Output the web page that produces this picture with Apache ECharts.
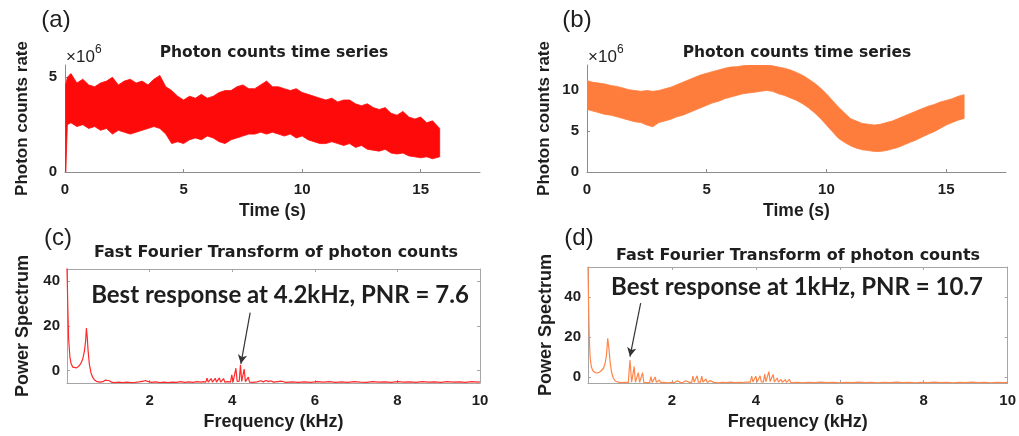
<!DOCTYPE html>
<html>
<head>
<meta charset="utf-8">
<script src="https://cdn.jsdelivr.net/npm/echarts@6/dist/echarts.min.js"></script>
<style>html,body{margin:0;padding:0;background:#fff}#c{width:1019px;height:436px}</style>
</head>
<body>
<div id="c"></div>
<script>
// ---- time series (a): seconds, photon counts rate in units of 1e6 ----
var timeA = [0.03,0.1,0.25,0.5,0.75,1,1.25,1.5,1.75,2,2.25,2.5,2.75,3,3.25,3.5,3.75,4,4.25,4.5,4.75,5,5.25,5.5,5.75,6,6.25,6.5,6.75,7,7.25,7.5,7.75,8,8.25,8.5,8.75,9,9.25,9.5,9.75,10,10.25,10.5,10.75,11,11.25,11.5,11.75,12,12.25,12.5,12.75,13,13.25,13.5,13.75,14,14.25,14.5,14.75,15,15.25,15.5,15.8];
var upperA = [4.6,5.0,5.2,4.7,4.9,4.6,4.5,4.7,4.8,5.0,4.6,4.8,4.9,4.7,4.8,4.6,4.9,5.1,4.5,4.3,4.0,3.8,4.0,3.9,4.1,3.9,4.0,4.2,4.3,4.3,4.5,4.6,4.4,4.4,4.6,4.8,4.5,4.5,4.4,4.3,4.4,4.2,4.1,4.0,3.9,3.8,3.9,3.7,3.8,3.8,3.6,3.5,3.6,3.4,3.3,3.4,3.1,3.0,3.2,2.9,2.8,2.9,2.6,2.7,2.3];
var lowerA = [0.0,2.5,2.6,2.4,2.5,2.3,2.4,2.2,2.3,2.0,2.2,2.1,2.0,2.1,2.2,2.3,2.4,2.3,2.0,1.5,1.6,1.5,1.7,1.8,1.7,1.9,1.8,1.6,1.5,1.7,1.8,1.9,2.0,2.0,2.1,2.0,2.1,2.0,1.9,2.0,1.8,1.9,1.7,1.6,1.5,1.5,1.6,1.5,1.4,1.5,1.3,1.4,1.2,1.15,1.1,1.2,1.0,0.95,1.0,0.85,0.8,0.75,0.8,0.7,0.8];

// ---- time series (b) ----
var timeB = [0,0.25,0.5,0.75,1,1.25,1.5,1.75,2,2.25,2.5,2.75,3,3.25,3.5,3.75,4,4.25,4.5,4.75,5,5.25,5.5,5.75,6,6.25,6.5,6.75,7,7.25,7.5,7.75,8,8.25,8.5,8.75,9,9.25,9.5,9.75,10,10.25,10.5,10.75,11,11.25,11.5,11.75,12,12.25,12.5,12.75,13,13.25,13.5,13.75,14,14.25,14.5,14.75,15,15.25,15.5,15.75];
var upperB = [11.1,10.9,10.8,10.7,10.5,10.4,10.2,10.0,9.9,9.8,9.9,9.8,9.9,10.1,10.3,10.6,10.9,11.2,11.5,11.8,12.0,12.2,12.4,12.6,12.75,12.8,12.9,13.0,13.0,13.1,13.0,12.9,12.75,12.6,12.4,12.1,11.75,11.3,10.8,10.2,9.5,8.7,7.9,7.2,6.5,6.2,5.9,5.8,5.7,5.8,6.0,6.2,6.5,6.8,7.1,7.4,7.7,8.0,8.2,8.5,8.7,8.9,9.2,9.4];
var lowerB = [7.6,7.4,7.2,7.0,6.9,6.7,6.5,6.3,6.1,6.0,5.7,5.5,6.0,6.2,6.4,6.7,6.9,7.2,7.5,7.8,8.1,8.4,8.6,8.9,9.1,9.3,9.5,9.6,9.7,9.8,9.9,9.8,9.5,9.3,9.0,8.7,8.3,7.8,7.2,6.5,5.7,4.9,4.1,3.6,3.2,2.9,2.7,2.6,2.5,2.5,2.6,2.8,3.0,3.3,3.6,3.9,4.25,4.6,4.9,5.3,5.7,6.0,6.3,6.5];

// ---- FFT (c): [frequency kHz, power] ----
var fftC = [[0,46],[0.02,28],[0.04,14],[0.07,6],[0.1,3],[0.14,1.5],[0.18,1.0],[0.23,1.2],[0.28,1.8],[0.33,3],[0.38,5],[0.42,8.5],[0.45,13],[0.47,19],[0.49,15],[0.51,9],[0.54,3],[0.58,-1],[0.62,-3],[0.67,-4.3],[0.73,-5.0],[0.8,-5.2],[0.87,-5.0],[0.93,-4.3],[0.97,-3.9],[1.02,-4.6],[1.08,-5.2],[1.15,-5.4],[1.25,-5.2],[1.35,-5.4],[1.45,-5.2],[1.55,-5.4],[1.65,-5.3],[1.75,-5.1],[1.85,-4.8],[1.9,-4.5],[1.95,-4.9],[2.05,-5.3],[2.15,-5.1],[2.25,-5.4],[2.35,-5.2],[2.45,-5.4],[2.55,-5.2],[2.65,-5.3],[2.75,-5.0],[2.85,-5.3],[2.95,-5.1],[3.05,-5.3],[3.15,-5.0],[3.25,-5.2],[3.3,-5.0],
[3.36,-5.2],[3.39,-3.5],[3.42,-5.2],[3.46,-5.2],[3.49,-3.6],[3.52,-5.2],[3.56,-5.2],[3.59,-3.5],[3.62,-5.2],[3.66,-5.2],[3.69,-3.3],[3.72,-5.2],[3.76,-5.2],[3.79,-3.6],[3.82,-5.2],[3.86,-5.3],[3.9,-5.0],[3.96,-5.2],[3.99,-1.9],[4.02,-5.2],[4.06,-5.1],[4.09,1.0],[4.12,-4.9],[4.17,-4.8],[4.2,2.6],[4.23,-4.9],[4.26,-5.0],[4.29,0.6],[4.32,-5.0],[4.36,-5.1],[4.39,-3.0],[4.42,-5.2],[4.5,-5.3],[4.6,-5.1],[4.7,-4.6],[4.75,-5.1],[4.82,-4.5],[4.88,-5.0],[4.93,-4.6],[5.0,-5.2],[5.1,-5.0],[5.2,-4.8],[5.3,-5.3],[5.45,-5.1],[5.6,-5.3],[5.75,-5.1],[5.9,-5.3],[6.05,-5.0],[6.2,-5.2],[6.35,-5.0],[6.5,-5.3],[6.65,-5.1],[6.8,-5.3],[6.95,-5.0],[7.1,-5.2],[7.25,-5.3],[7.4,-5.0],[7.55,-5.2],[7.7,-5.1],[7.85,-5.3],[8.0,-5.0],[8.15,-5.2],[8.3,-5.1],[8.45,-5.3],[8.6,-5.0],[8.75,-5.2],[8.9,-5.1],[9.05,-5.3],[9.2,-5.0],[9.35,-5.2],[9.5,-5.1],[9.65,-5.3],[9.8,-5.0],[9.95,-5.2],[10,-5.1]];

// ---- FFT (d) ----
var fftD = [[0,55],[0.015,35],[0.03,20],[0.05,10],[0.08,5],[0.12,3],[0.17,2.2],[0.22,2.0],[0.27,2.4],[0.32,3.2],[0.37,4.5],[0.41,7],[0.44,11],[0.47,19.3],[0.5,14],[0.53,7],[0.56,2.5],[0.6,-0.5],[0.65,-2],[0.72,-2.6],[0.8,-2.8],[0.9,-2.7],[0.96,-2.8],[1.0,8.5],[1.04,-2.6],[1.07,-2.7],[1.1,5.2],[1.13,-2.6],[1.17,-2.7],[1.2,2.2],[1.23,-2.7],[1.27,-2.7],[1.3,2.2],[1.33,-2.7],[1.4,-2.8],[1.47,-2.7],[1.5,0.2],[1.53,-2.7],[1.57,-2.7],[1.6,0.0],[1.63,-2.7],[1.67,-2.8],[1.7,-1.5],[1.73,-2.8],[1.8,-2.7],[1.9,-2.9],[2.0,-2.7],[2.03,-1.8],[2.06,-2.8],[2.1,-2.7],[2.13,-1.9],[2.16,-2.8],[2.2,-2.7],[2.23,-1.8],[2.26,-2.8],[2.3,-2.7],[2.33,-1.9],[2.36,-2.8],[2.42,-2.7],[2.47,-2.7],[2.5,0.5],[2.53,-2.6],[2.57,-2.6],[2.6,0.6],[2.63,-2.6],[2.68,-2.6],[2.71,0.4],[2.74,-2.6],[2.78,-2.6],[2.81,-1.0],[2.84,-2.7],[2.88,-2.7],[2.91,-1.8],[2.94,-2.8],[3.0,-2.7],[3.1,-2.9],[3.2,-2.7],[3.3,-2.8],[3.4,-2.6],[3.5,-2.8],[3.6,-2.7],[3.7,-2.8],[3.75,-2.5],[3.78,-1.6],[3.81,-2.6],[3.87,-2.6],[3.9,0.5],[3.93,-2.5],[3.97,-2.5],[4.0,0.4],[4.03,-2.5],[4.07,-2.5],[4.1,0.6],[4.13,-2.4],[4.18,-2.4],[4.21,1.5],[4.24,-2.3],[4.28,-2.3],[4.31,2.7],[4.34,-2.3],[4.38,-2.4],[4.41,1.3],[4.44,-2.4],[4.48,-2.5],[4.51,-0.5],[4.54,-2.6],[4.57,-2.6],[4.6,-1.2],[4.63,-2.6],[4.67,-2.6],[4.7,-1.3],[4.73,-2.7],[4.77,-2.7],[4.8,-1.2],[4.83,-2.7],[4.9,-2.8],[5.0,-2.7],[5.1,-2.9],[5.25,-2.7],[5.4,-2.8],[5.55,-2.6],[5.7,-2.8],[5.85,-2.7],[6.0,-2.9],[6.15,-2.7],[6.3,-2.8],[6.45,-2.6],[6.6,-2.8],[6.75,-2.7],[6.9,-2.9],[7.05,-2.7],[7.2,-2.8],[7.35,-2.6],[7.5,-2.8],[7.65,-2.7],[7.8,-2.9],[7.95,-2.7],[8.1,-2.8],[8.25,-2.6],[8.4,-2.8],[8.55,-2.7],[8.7,-2.9],[8.85,-2.7],[9.0,-2.8],[9.15,-2.6],[9.3,-2.8],[9.45,-2.7],[9.6,-2.9],[9.75,-2.7],[9.9,-2.8],[10,-2.7]];

// ---- tick labels ----
var ticksTime = [0, 5, 10, 15];
var ticksRateA = [0, 5];
var ticksRateB = [0, 5, 10];
var ticksFreqLabels = [2, 4, 6, 8, 10];
var ticksFreqMarks = [2, 4, 6, 8];
var ticksPower = [0, 20, 40];

// arrows: [from, to] in data coordinates
var arrowC = [[4.435, 25.9], [4.21, 3.0]];
var arrowD = [[1.255, 36.9], [1.0, 10.2]];

var RED = '#ff0a0a', ORANGE = '#ff7d3c', FFT_RED = '#ff2a2a', FFT_OR = '#ff8548';
var TXT = '#1e1e1e', AX = '#8c8c8c', FRAME = '#a6a6a6';
var FF = '"Liberation Sans", Arial, sans-serif';

function timeX(gi) {
  return {
    type: 'value', gridIndex: gi, min: 0, max: 17.5,
    axisLine: { show: true, lineStyle: { color: AX, width: 1 } },
    axisTick: { show: true, inside: true, length: 3, customValues: ticksTime, lineStyle: { color: AX } },
    axisLabel: { customValues: ticksTime, color: TXT, fontSize: 15, fontWeight: 'bold', margin: 10, fontFamily: FF },
    splitLine: { show: false },
    name: 'Time (s)', nameLocation: 'middle', nameGap: 30,
    nameTextStyle: { color: TXT, fontSize: 17.5, fontWeight: 'bold', fontFamily: FF }
  };
}
function rateY(gi, max, ticks) {
  return {
    type: 'value', gridIndex: gi, min: 0, max: max,
    axisLine: { show: true, lineStyle: { color: AX, width: 1 } },
    axisTick: { show: true, inside: true, length: 3, customValues: ticks, lineStyle: { color: AX } },
    axisLabel: { customValues: ticks, color: TXT, fontSize: 15, fontWeight: 'bold', margin: 8, fontFamily: FF },
    splitLine: { show: false },
    name: 'Photon counts rate', nameLocation: 'middle', nameGap: 34,
    nameTextStyle: { color: TXT, fontSize: 17, fontWeight: 'bold', fontFamily: FF }
  };
}
function freqX(gi, top) {
  var a = {
    type: 'value', gridIndex: gi, min: 0, max: 10, position: top ? 'top' : 'bottom',
    axisLine: { show: true, onZero: false, lineStyle: { color: FRAME, width: 1 } },
    axisTick: { show: true, inside: true, length: 3, customValues: ticksFreqMarks, lineStyle: { color: FRAME } },
    axisLabel: { show: !top, customValues: ticksFreqLabels, color: TXT, fontSize: 15, fontWeight: 'bold', margin: 10, fontFamily: FF },
    splitLine: { show: false }
  };
  if (!top) {
    a.name = 'Frequency (kHz)'; a.nameLocation = 'middle'; a.nameGap = 30;
    a.nameTextStyle = { color: TXT, fontSize: 18, fontWeight: 'bold', fontFamily: FF };
  }
  return a;
}
function powerY(gi, min, max, right, gap) {
  var a = {
    type: 'value', gridIndex: gi, min: min, max: max, position: right ? 'right' : 'left',
    axisLine: { show: true, onZero: false, lineStyle: { color: FRAME, width: 1 } },
    axisTick: { show: true, inside: true, length: 3, customValues: ticksPower, lineStyle: { color: FRAME } },
    axisLabel: { show: !right, customValues: ticksPower, color: TXT, fontSize: 15, fontWeight: 'bold', margin: 7, fontFamily: FF },
    splitLine: { show: false }
  };
  if (!right) {
    a.name = 'Power Spectrum'; a.nameLocation = 'middle'; a.nameGap = gap;
    a.nameTextStyle = { color: TXT, fontSize: 18, fontWeight: 'bold', fontFamily: FF };
  }
  return a;
}
// noisy band: polygon between lower and upper envelopes, positioned by the axis scales
function band(xi, t, up, lo, color) {
  var data = t.map(function (x, i) { return [x, lo[i], up[i]]; });
  return {
    type: 'custom', xAxisIndex: xi, yAxisIndex: xi, data: data, silent: true, animation: false,
    encode: { x: 0, y: [1, 2] }, clip: true,
    renderItem: function (params, api) {
      if (params.dataIndex !== 0) return null;
      var pts = [], i;
      for (i = 0; i < t.length; i++) pts.push(api.coord([t[i], up[i]]));
      for (i = t.length - 1; i >= 0; i--) pts.push(api.coord([t[i], lo[i]]));
      return { type: 'polygon', shape: { points: pts },
        style: { fill: color, stroke: color, lineWidth: 0.8 } };
    }
  };
}
function fft(xi, yi, data, color, arrow) {
  return { type: 'line', xAxisIndex: xi, yAxisIndex: yi, data: data, symbol: 'none',
    lineStyle: { color: color, width: 1.2 }, silent: true, animation: false,
    markLine: { silent: true, animation: false, symbol: ['none', 'arrow'], symbolSize: [7, 9],
      label: { show: false }, lineStyle: { color: '#333', width: 1.2, type: 'solid' },
      data: [[{ coord: arrow[0] }, { coord: arrow[1] }]] } };
}
function txt(x, y, s, font, align) {
  return { type: 'text', x: x, y: y, silent: true,
    style: { text: s, font: font, fill: TXT, align: align || 'center', verticalAlign: 'middle' } };
}

var chart = echarts.init(document.getElementById('c'), null, { renderer: 'canvas' });
chart.setOption({
  animation: false,
  backgroundColor: '#fff',
  textStyle: { fontFamily: FF },
  grid: [
    { left: 65, top: 65, width: 415, height: 107 },
    { left: 587, top: 65, width: 419, height: 107 },
    { left: 67, top: 269, width: 413, height: 114 },
    { left: 588, top: 267, width: 428, height: 116 }
  ],
  xAxis: [timeX(0), timeX(1), freqX(2, false), freqX(2, true), freqX(3, false), freqX(3, true)],
  yAxis: [rateY(0, 5.65, ticksRateA), rateY(1, 13, ticksRateB),
    powerY(2, -5.6, 45.4, false, 35), powerY(2, -5.6, 45.4, true), powerY(3, -3, 55, false, 33), powerY(3, -3, 55, true)],
  series: [
    band(0, timeA, upperA, lowerA, RED),
    band(1, timeB, upperB, lowerB, ORANGE),
    fft(2, 2, fftC, FFT_RED, arrowC),
    fft(4, 4, fftD, FFT_OR, arrowD)
  ],
  graphic: [
    txt(56, 20, '(a)', '24px "Liberation Sans"'),
    txt(577, 20, '(b)', '24px "Liberation Sans"'),
    txt(58, 238, '(c)', '24px "Liberation Sans"'),
    txt(579, 238, '(d)', '24px "Liberation Sans"'),
    txt(274, 53, 'Photon counts time series', 'bold 15.5px "DejaVu Sans"'),
    txt(797, 53, 'Photon counts time series', 'bold 15.5px "DejaVu Sans"'),
    txt(66, 57, '\u00d710', '17px "Liberation Sans"', 'left'),
    txt(95, 50, '6', '12px "Liberation Sans"', 'left'),
    txt(588, 57, '\u00d710', '17px "Liberation Sans"', 'left'),
    txt(617, 50, '6', '12px "Liberation Sans"', 'left'),
    txt(276, 253, 'Fast Fourier Transform of photon counts', 'bold 16px "DejaVu Sans"'),
    txt(798, 256, 'Fast Fourier Transform of photon counts', 'bold 16px "DejaVu Sans"'),
    txt(280, 295, 'Best response at 4.2kHz, PNR = 7.6', 'bold 24px Lato'),
    txt(797, 287, 'Best response at 1kHz, PNR = 10.7', 'bold 24px Lato')
  ]
});
</script>
</body>
</html>
